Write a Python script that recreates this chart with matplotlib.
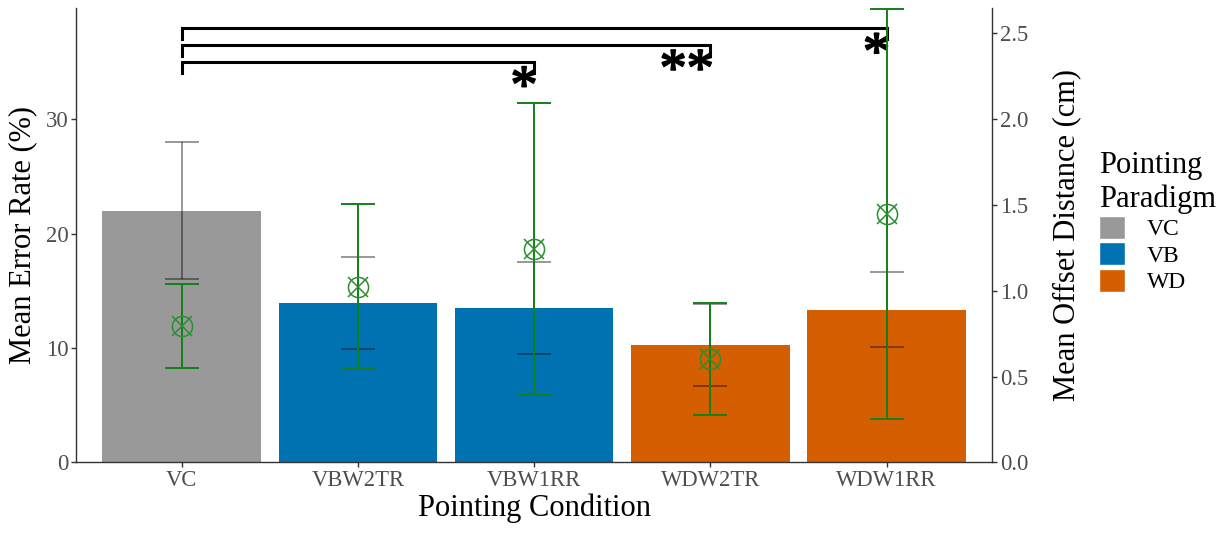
import matplotlib
matplotlib.use("Agg")
import matplotlib.pyplot as plt
import matplotlib.patheffects as pe
import numpy as np
from matplotlib.patches import Patch

plt.rcParams['font.family'] = ['Liberation Serif', 'DejaVu Serif']

# data
conditions = ["VC", "VBW2TR", "VBW1RR", "WDW2TR", "WDW1RR"]
paradigm = ["VC", "VB", "VB", "WD", "WD"]
error_rate = [22.0, 13.95, 13.5, 10.25, 13.35]
error_rate_ci = [6.0, 4.0, 4.0, 3.6, 3.25]
offset_dist = [0.792, 1.024, 1.245, 0.601, 1.448]
offset_ci = [0.245, 0.482, 0.852, 0.326, 1.195]

paradigm_colors = {"VC": "#999999", "VB": "#0072B2", "WD": "#D55E00"}

# significance brackets: (from, to, label)
sig_pairs = [(0, 2, "*"), (0, 3, "**"), (0, 4, "*")]
sig_levels = [35.04, 36.5, 37.96]

ymax_left = 39.7
scale = 15.0   # left axis units per right axis unit

fig = plt.figure(figsize=(12.29, 5.38), dpi=100)
ax = fig.add_axes([0.0618, 0.1407, 0.7456, 0.8439])
ax2 = ax.twinx()

x = np.arange(len(conditions))
bar_cols = [paradigm_colors[p] for p in paradigm]
ax.bar(x, error_rate, width=0.9, color=bar_cols, zorder=1)
ax.errorbar(x, error_rate, yerr=error_rate_ci, fmt='none', ecolor='black',
            alpha=0.4, elinewidth=1.4, capsize=12.2, capthick=1.4, zorder=2)

green = '#14801a'
ax2.errorbar(x, offset_dist, yerr=offset_ci, fmt='none', ecolor=green,
             elinewidth=1.4, capsize=12.2, capthick=1.4, zorder=3)
ax2.plot(x, offset_dist, 'o', ms=14.5, mfc='none', mec='#2a8f30', mew=1.1, zorder=4)
ax2.plot(x, offset_dist, 'x', ms=14.5, mec='#2a8f30', mew=1.1, zorder=4)

# brackets
tip = 0.96
for (a, b, lab), lvl in zip(sig_pairs, sig_levels):
    ax.plot([x[a], x[a], x[b], x[b]], [lvl - tip, lvl, lvl, lvl - tip],
            color='black', lw=2.2, solid_joinstyle='miter', clip_on=False, zorder=5)
    ax.text(x[b] + 0.02, lvl - 3.55, lab, ha='right', va='baseline',
            fontsize=39, color='black', zorder=6,
            path_effects=[pe.withStroke(linewidth=1.3, foreground='black')])

ax.set_xlim(-0.6, 4.6)
ax.set_ylim(0, ymax_left)
ax2.set_ylim(0, ymax_left / scale)
ax.set_yticks([0, 10, 20, 30])
ax2.set_yticks([0.0, 0.5, 1.0, 1.5, 2.0, 2.5])
ax2.set_yticklabels([f"{v:.1f}" for v in [0.0, 0.5, 1.0, 1.5, 2.0, 2.5]])
ax.set_xticks(x)
ax.set_xticklabels(conditions)

for a in (ax, ax2):
    a.spines['top'].set_visible(False)
    for s in a.spines.values():
        s.set_color('#333333')
        s.set_linewidth(1.0)
    a.tick_params(labelsize=16.3, labelcolor='#4D4D4D', color='#333333',
                  length=3.5, width=1.0, pad=2)
ax.spines['right'].set_visible(False)
ax2.spines['left'].set_visible(False)
ax2.spines['bottom'].set_visible(False)

ax.set_xlabel("Pointing Condition", fontsize=22, labelpad=2)
ax.set_ylabel("Mean Error Rate (%)", fontsize=22, labelpad=6)
ax2.set_ylabel("Mean Offset Distance (cm)", fontsize=22, labelpad=17)

handles = [Patch(facecolor=c, edgecolor='white', linewidth=1.0, label=k)
           for k, c in paradigm_colors.items()]
leg = fig.legend(handles=handles, title="Pointing\nParadigm", loc='upper left',
                 bbox_to_anchor=(1099 / 1229, 1 - 151 / 538), frameon=False,
                 fontsize=17, title_fontsize=22, handlelength=1.12,
                 handleheight=1.12, handletextpad=0.9, labelspacing=0.08,
                 borderpad=0, borderaxespad=0, alignment='left')

fig.savefig("out.png", dpi=100)
